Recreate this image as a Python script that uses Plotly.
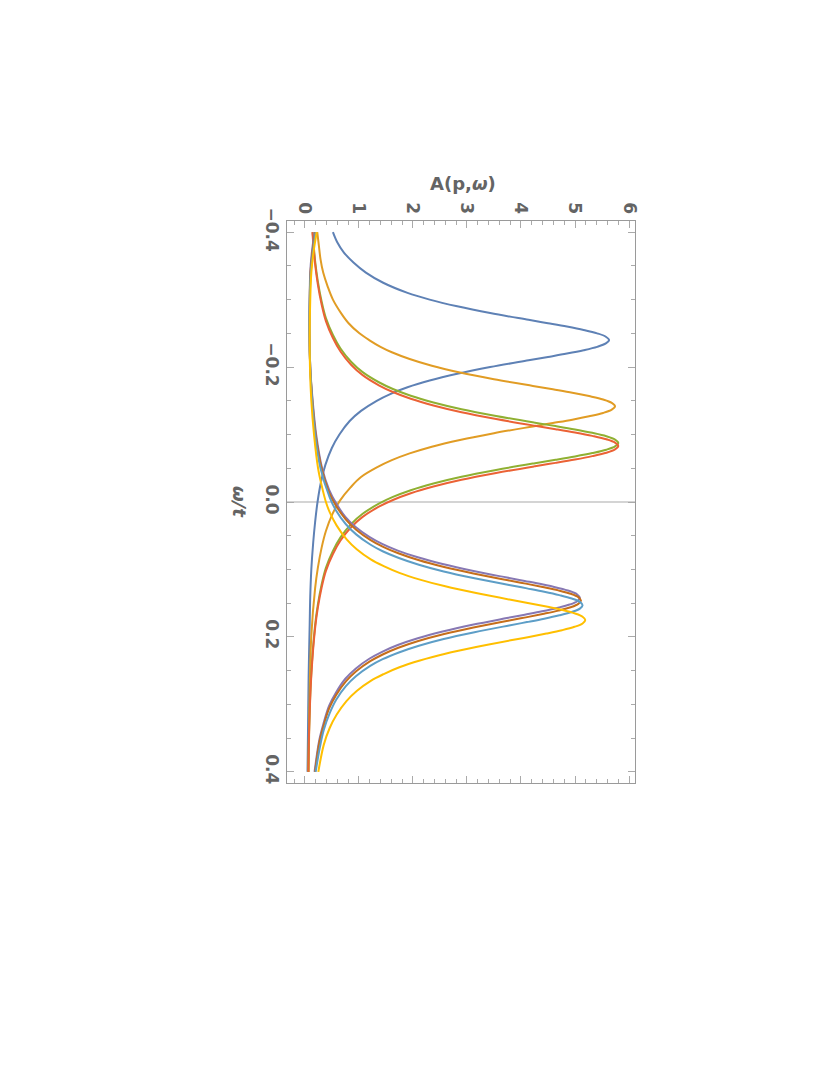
import plotly.graph_objects as go

# ---- data: spectral functions A(p, omega); omega/t on the vertical axis ----
omega_blue = [-0.40, -0.385, -0.37, -0.355, -0.34, -0.325, -0.31, -0.30, -0.29, -0.28, -0.27, -0.265,
              -0.26, -0.255, -0.25, -0.245, -0.24, -0.235, -0.23, -0.225, -0.22, -0.215, -0.21, -0.20,
              -0.19, -0.18, -0.17, -0.16, -0.15, -0.135, -0.12, -0.10, -0.08, -0.055, -0.03, 0.0,
              0.03, 0.06, 0.10, 0.14, 0.18, 0.26, 0.33, 0.40]
A_blue = [0.52, 0.60, 0.72, 0.90, 1.13, 1.45, 1.90, 2.31, 2.82, 3.43, 4.14, 4.50,
          4.85, 5.16, 5.41, 5.57, 5.63, 5.57, 5.41, 5.16, 4.85, 4.50, 4.14, 3.43,
          2.82, 2.31, 1.90, 1.58, 1.33, 1.04, 0.83, 0.64, 0.50, 0.38, 0.30, 0.235,
          0.19, 0.155, 0.12, 0.10, 0.09, 0.07, 0.06, 0.05]

omega_orange = [-0.40, -0.38, -0.36, -0.34, -0.32, -0.30, -0.28, -0.265, -0.25, -0.24, -0.23, -0.222,
                -0.212, -0.202, -0.192, -0.182, -0.172, -0.167, -0.162, -0.157, -0.152, -0.147, -0.142,
                -0.137, -0.132, -0.127, -0.122, -0.117, -0.112, -0.102, -0.092, -0.082, -0.072,
                -0.062, -0.052, -0.037, -0.022, -0.002, 0.018, 0.043, 0.068, 0.098, 0.128, 0.198,
                0.278, 0.34, 0.40]
A_orange = [0.23, 0.26, 0.29, 0.34, 0.42, 0.52, 0.67, 0.81, 1.01, 1.19, 1.40, 1.61,
            1.94, 2.35, 2.87, 3.50, 4.22, 4.59, 4.95, 5.26, 5.52, 5.68, 5.74,
            5.68, 5.52, 5.26, 4.95, 4.59, 4.22, 3.50, 2.87, 2.35, 1.94,
            1.61, 1.35, 1.04, 0.85, 0.65, 0.51, 0.39, 0.31, 0.24, 0.19, 0.12,
            0.09, 0.08, 0.07]

omega_green = [-0.40, -0.3575, -0.3275, -0.2975, -0.2725, -0.2475, -0.2275, -0.2075, -0.1925, -0.1775, -0.1675,
               -0.1575, -0.1475, -0.1375, -0.1275, -0.1175, -0.1125, -0.1075, -0.1025, -0.0975, -0.0925, -0.0875,
               -0.0825, -0.0775, -0.0725, -0.0675, -0.0625, -0.0575, -0.0475, -0.0375, -0.0275, -0.0175,
               -0.0075, 0.0025, 0.0175, 0.0325, 0.0525, 0.0725, 0.0975, 0.1225, 0.1525, 0.1825, 0.2525,
               0.3325, 0.40]
A_green = [0.145, 0.19, 0.24, 0.31, 0.39, 0.52, 0.66, 0.86, 1.07, 1.37, 1.63,
           1.96, 2.38, 2.90, 3.54, 4.26, 4.64, 5.00, 5.32, 5.58, 5.74, 5.80,
           5.74, 5.58, 5.32, 5.00, 4.64, 4.26, 3.54, 2.90, 2.38, 1.96,
           1.63, 1.37, 1.07, 0.86, 0.66, 0.52, 0.39, 0.31, 0.24, 0.19, 0.12,
           0.08, 0.065]

omega_red = [-0.40, -0.353, -0.323, -0.293, -0.268, -0.243, -0.223, -0.203, -0.188, -0.173, -0.163,
             -0.153, -0.143, -0.133, -0.123, -0.113, -0.108, -0.103, -0.098, -0.093, -0.088, -0.083,
             -0.078, -0.073, -0.068, -0.063, -0.058, -0.053, -0.043, -0.033, -0.023, -0.013,
             -0.003, 0.007, 0.022, 0.037, 0.057, 0.077, 0.102, 0.127, 0.157, 0.187, 0.257,
             0.337, 0.40]
A_red = [0.14, 0.19, 0.24, 0.31, 0.39, 0.52, 0.66, 0.86, 1.07, 1.37, 1.63,
         1.96, 2.38, 2.90, 3.54, 4.26, 4.64, 5.00, 5.32, 5.58, 5.74, 5.80,
         5.74, 5.58, 5.32, 5.00, 4.64, 4.26, 3.54, 2.90, 2.38, 1.96,
         1.63, 1.37, 1.07, 0.86, 0.66, 0.52, 0.39, 0.31, 0.24, 0.19, 0.12,
         0.08, 0.065]

omega_purple = [-0.40, -0.37, -0.34, -0.30, -0.25, -0.20, -0.15, -0.10, -0.05, -0.018, 0.002, 0.022,
                0.037, 0.052, 0.062,
                0.072, 0.082, 0.092, 0.102, 0.112, 0.117, 0.122, 0.127, 0.132, 0.137, 0.142,
                0.147, 0.152, 0.157, 0.162, 0.167, 0.172, 0.182, 0.192, 0.202, 0.212,
                0.222, 0.232, 0.247, 0.262, 0.282, 0.302, 0.327, 0.352, 0.40]
A_purple = [0.18, 0.13, 0.10, 0.09, 0.085, 0.10, 0.145, 0.21, 0.32, 0.45, 0.58, 0.75,
            0.94, 1.20, 1.43,
            1.72, 2.09, 2.55, 3.10, 3.74, 4.07, 4.39, 4.67, 4.90, 5.04, 5.09,
            5.04, 4.90, 4.67, 4.39, 4.07, 3.74, 3.10, 2.55, 2.09, 1.72,
            1.43, 1.20, 0.94, 0.75, 0.58, 0.45, 0.35, 0.27, 0.18]

omega_darkorange = [-0.40, -0.37, -0.34, -0.30, -0.25, -0.20, -0.15, -0.10, -0.05, -0.014, 0.006, 0.026,
                    0.041, 0.056, 0.066,
                    0.076, 0.086, 0.096, 0.106, 0.116, 0.121, 0.126, 0.131, 0.136, 0.141, 0.146,
                    0.151, 0.156, 0.161, 0.166, 0.171, 0.176, 0.186, 0.196, 0.206, 0.216,
                    0.226, 0.236, 0.251, 0.266, 0.286, 0.306, 0.331, 0.356, 0.40]
A_darkorange = [0.19, 0.14, 0.105, 0.09, 0.085, 0.10, 0.14, 0.20, 0.31, 0.45, 0.58, 0.76,
                0.95, 1.21, 1.44,
                1.73, 2.10, 2.56, 3.12, 3.76, 4.09, 4.40, 4.69, 4.92, 5.06, 5.11,
                5.06, 4.92, 4.69, 4.40, 4.09, 3.76, 3.12, 2.56, 2.10, 1.73,
                1.44, 1.21, 0.95, 0.76, 0.58, 0.45, 0.35, 0.27, 0.19]

omega_lightblue = [-0.40, -0.37, -0.34, -0.30, -0.25, -0.20, -0.15, -0.10, -0.05, -0.007, 0.013, 0.033,
                   0.048, 0.063, 0.073,
                   0.083, 0.093, 0.103, 0.113, 0.123, 0.128, 0.133, 0.138, 0.143, 0.148, 0.153,
                   0.158, 0.163, 0.168, 0.173, 0.178, 0.183, 0.193, 0.203, 0.213, 0.223,
                   0.233, 0.243, 0.258, 0.273, 0.293, 0.313, 0.338, 0.363, 0.40]
A_lightblue = [0.20, 0.15, 0.11, 0.09, 0.085, 0.10, 0.135, 0.19, 0.29, 0.46, 0.58, 0.76,
               0.95, 1.21, 1.44,
               1.74, 2.11, 2.57, 3.14, 3.78, 4.11, 4.43, 4.71, 4.94, 5.09, 5.14,
               5.09, 4.94, 4.71, 4.43, 4.11, 3.78, 3.14, 2.57, 2.11, 1.74,
               1.44, 1.21, 0.95, 0.76, 0.58, 0.46, 0.35, 0.28, 0.20]

omega_yellow = [-0.40, -0.37, -0.34, -0.30, -0.25, -0.20, -0.15, -0.10, -0.05, -0.025, 0.0, 0.015,
                0.035, 0.055, 0.07, 0.085, 0.095,
                0.105, 0.115, 0.125, 0.135, 0.145, 0.150, 0.155, 0.160, 0.165, 0.170, 0.175,
                0.180, 0.185, 0.190, 0.195, 0.200, 0.205, 0.215, 0.225, 0.235, 0.245,
                0.255, 0.265, 0.28, 0.295, 0.315, 0.335, 0.36, 0.40]
A_yellow = [0.22, 0.16, 0.12, 0.10, 0.09, 0.095, 0.12, 0.17, 0.245, 0.31, 0.39, 0.46,
            0.59, 0.77, 0.96, 1.22, 1.46,
            1.75, 2.13, 2.60, 3.17, 3.81, 4.15, 4.47, 4.76, 4.99, 5.14, 5.19,
            5.14, 4.99, 4.76, 4.47, 4.15, 3.81, 3.17, 2.60, 2.13, 1.75,
            1.46, 1.22, 0.96, 0.77, 0.59, 0.46, 0.35, 0.25]

omega_tickvals = [-0.4, -0.2, 0.0, 0.2, 0.4]
omega_ticktext = ["\u22120.4", "\u22120.2", "0.0", "0.2", "0.4"]
A_tickvals = [0, 1, 2, 3, 4, 5, 6]
A_ticktext = ["0", "1", "2", "3", "4", "5", "6"]

series = [
    (omega_blue, A_blue, "#5E81B5"),
    (omega_orange, A_orange, "#E19C24"),
    (omega_green, A_green, "#8FB032"),
    (omega_red, A_red, "#EB6235"),
    (omega_purple, A_purple, "#8778B3"),
    (omega_darkorange, A_darkorange, "#C56E1A"),
    (omega_lightblue, A_lightblue, "#5D9EC7"),
    (omega_yellow, A_yellow, "#FFBF00"),
]

fig = go.Figure()
for w, a, col in series:
    fig.add_trace(go.Scatter(x=a, y=w, mode="lines",
                             line=dict(color=col, width=2, shape="spline", smoothing=1.0),
                             showlegend=False, hoverinfo="skip"))

TXT = "#646464"
FONT = "DejaVu Sans"
FRAME = "#9a9a9a"
TICKC = "#aaaaaa"

fig.update_layout(
    width=830, height=1075, autosize=False,
    margin=dict(l=279, r=203, t=213, b=300),
    paper_bgcolor="white", plot_bgcolor="white",
    font=dict(family=FONT, color=TXT, size=17),
    xaxis=dict(
        range=[-0.33, 6.11], side="top", showgrid=False, zeroline=False,
        showline=True, linecolor=FRAME, linewidth=1, mirror="allticks",
        ticks="inside", ticklen=7, tickcolor=TICKC, tickwidth=1,
        tickmode="array", tickvals=A_tickvals, ticktext=A_ticktext, tickangle=90,
        tickfont=dict(family=FONT, size=17, color=TXT, weight="bold"),
        minor=dict(dtick=0.2, tick0=0, ticks="inside", ticklen=4, tickcolor=TICKC, showgrid=False),
    ),
    yaxis=dict(
        range=[0.4165, -0.4165], showgrid=False,
        zeroline=True, zerolinecolor="#d4d4d4", zerolinewidth=1.5,
        showline=True, linecolor=FRAME, linewidth=1, mirror="allticks",
        ticks="inside", ticklen=7, tickcolor=TICKC, tickwidth=1,
        tickmode="array", tickvals=omega_tickvals, ticktext=omega_ticktext, tickangle=90,
        tickfont=dict(family=FONT, size=17, color=TXT, weight="bold"),
        minor=dict(dtick=0.05, tick0=0, ticks="inside", ticklen=4, tickcolor=TICKC, showgrid=False),
    ),
    annotations=[
        dict(text="A(<b>p</b>,<i>ω</i>)", xref="paper", yref="paper", x=0.506, y=1.0676,
             xanchor="center", yanchor="middle", showarrow=False,
             font=dict(family=FONT, size=18, color=TXT, weight="bold")),
        dict(text="<i>ω/t</i>", xref="paper", yref="paper", x=-0.135, y=0.5,
             xanchor="center", yanchor="middle", showarrow=False, textangle=90,
             font=dict(family=FONT, size=18, color=TXT, weight="bold")),
    ],
)

fig.write_html("out.html")
